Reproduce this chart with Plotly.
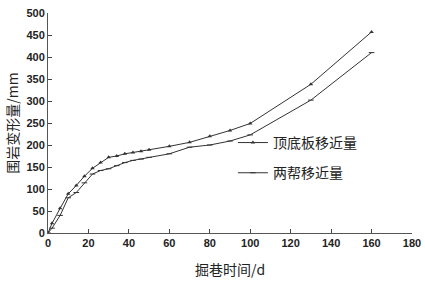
import plotly.graph_objects as go

days = [0, 2, 6, 10, 14, 18, 22, 26, 30, 34, 38, 42, 46, 50, 60, 70, 80, 90, 100, 130, 160]
roof_floor = [0, 22, 56, 89, 108, 129, 147, 160, 172, 175, 180, 183, 186, 189, 197, 206, 220, 233, 249, 338, 457]
two_sides = [0, 11, 40, 80, 92, 114, 134, 142, 146, 153, 160, 165, 168, 172, 180, 195, 200, 209, 223, 302, 410]

x_ticks = [0, 20, 40, 60, 80, 100, 120, 140, 160, 180]
y_ticks = [0, 50, 100, 150, 200, 250, 300, 350, 400, 450, 500]

fig = go.Figure()
fig.add_trace(go.Scatter(
    x=days, y=roof_floor, name="顶底板移近量", mode="lines+markers",
    line=dict(color="#333333", width=1),
    marker=dict(symbol="triangle-up", size=4, color="#333333"),
    legendgroup="a"))
fig.add_trace(go.Scatter(
    x=days, y=two_sides, name="两帮移近量", mode="lines+markers",
    line=dict(color="#333333", width=1),
    marker=dict(symbol="line-ew", size=4, color="#333333", line=dict(width=1, color="#333333")),
    legendgroup="b"))

fig.update_layout(
    width=425, height=285,
    margin=dict(l=48, r=13, t=13, b=52),
    paper_bgcolor="white", plot_bgcolor="white",
    font=dict(family="Liberation Sans", color="#222222"),
    legend=dict(x=0.508, y=0.482, xanchor="left", yanchor="top",
                font=dict(family="Noto Sans CJK SC", size=14, color="#222222"),
                tracegroupgap=9, itemwidth=30, bgcolor="rgba(0,0,0,0)"),
    xaxis=dict(range=[0, 180], tickvals=x_ticks, ticks="inside", ticklen=4, automargin=False,
               showline=True, linecolor="#555555", linewidth=1, showgrid=False, zeroline=False,
               tickfont=dict(size=11, family="Liberation Sans", weight="bold"),
               title=dict(text="掘巷时间/d", font=dict(family="Noto Sans CJK SC", size=14), standoff=16)),
    yaxis=dict(range=[0, 500], tickvals=y_ticks, ticks="inside", ticklen=4, automargin=False,
               showline=True, linecolor="#555555", linewidth=1, showgrid=False, zeroline=False,
               tickfont=dict(size=11, family="Liberation Sans", weight="bold"),
               title=dict(text="围岩变形量/mm", font=dict(family="Noto Sans CJK SC", size=14), standoff=4)),
)

fig.write_html("out.html", config={"displayModeBar": False},
               post_script="document.body.style.margin='0';document.body.style.overflow='hidden';")
